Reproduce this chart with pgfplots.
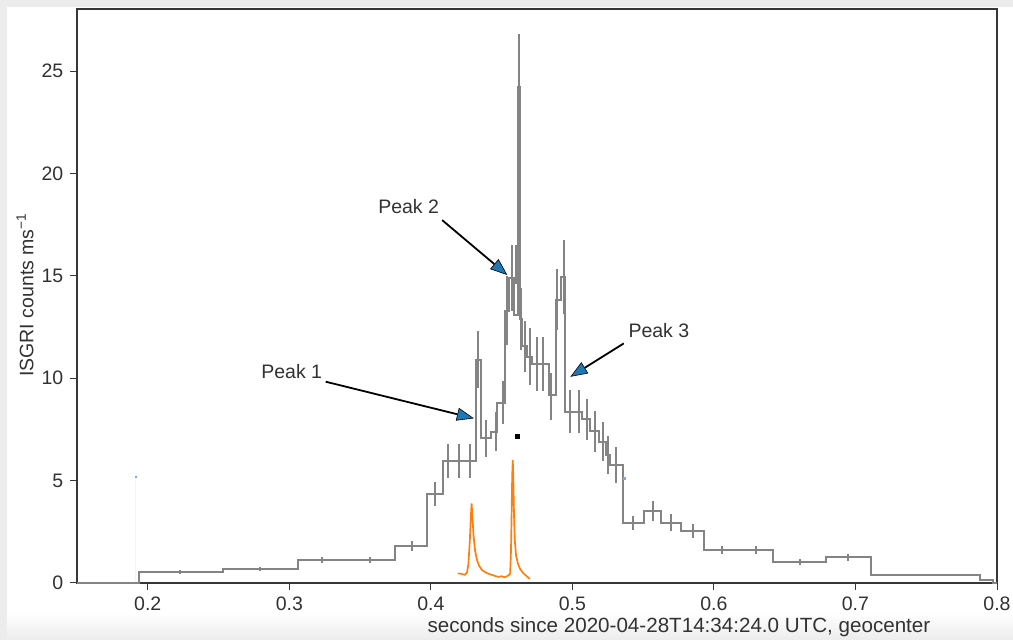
\documentclass[border=0pt]{standalone}
\usepackage{pgfplots}
\pgfplotsset{compat=1.18}
\usepackage{pgfplotstable}
\usepackage{fontspec}
\setmainfont{Liberation Sans}
\usetikzlibrary{arrows.meta}

\definecolor{histgray}{RGB}{132,132,132}
\definecolor{mplorange}{RGB}{255,127,14}
\definecolor{mplblue}{RGB}{31,119,180}
\definecolor{framegray}{RGB}{55,55,55}
\definecolor{screengray}{RGB}{236,236,236}
\definecolor{labelgray}{RGB}{50,50,50}

% ISGRI light curve: left bin edge and count rate (counts/ms)
\pgfplotstableread{
x y
0.1500 0.00
0.1940 0.55
0.2530 0.67
0.3060 1.12
0.3400 1.12
0.3750 1.80
0.3976 4.35
0.4085 5.96
0.4162 5.96
0.4239 5.96
0.4316 10.90
0.4356 7.06
0.4422 7.39
0.4469 8.80
0.4525 13.30
0.4550 14.90
0.4590 13.10
0.4617 24.20
0.4632 12.90
0.4645 11.55
0.4681 11.05
0.4716 10.70
0.4834 9.20
0.4881 13.80
0.4921 14.96
0.4951 8.37
0.5071 8.00
0.5127 7.40
0.5191 6.90
0.5240 6.25
0.5268 5.76
0.5358 2.93
0.5504 3.52
0.5626 2.95
0.5768 2.54
0.5932 1.61
0.6418 1.04
0.6790 1.25
0.7108 0.39
0.7880 0.15
0.7974 0.00
0.8000 0.00
}\lightcurve

% Error bars: bin centre, rate, 1-sigma
\pgfplotstableread{
x y e
0.2230 0.55 0.10
0.2790 0.67 0.10
0.3230 1.12 0.15
0.3570 1.12 0.15
0.3870 1.80 0.25
0.4030 4.35 0.60
0.4123 5.96 0.83
0.4200 5.96 0.83
0.4277 5.96 0.83
0.4336 10.90 1.40
0.4393 7.06 0.90
0.4457 7.39 0.95
0.4511 8.80 1.05
0.4537 13.30 1.70
0.4570 14.90 1.60
0.4603 15.55 0.95
0.4624 24.20 2.60
0.4639 12.90 1.50
0.4663 11.55 1.25
0.4699 11.05 1.40
0.4751 10.70 1.30
0.4793 10.70 1.30
0.4850 9.10 1.15
0.4892 13.85 1.50
0.4939 14.96 1.80
0.4986 8.37 1.05
0.5045 8.37 1.05
0.5104 8.00 1.00
0.5163 7.40 1.00
0.5215 6.90 0.95
0.5250 6.25 0.95
0.5311 5.76 0.90
0.5426 2.93 0.35
0.5571 3.52 0.48
0.5696 2.95 0.40
0.5852 2.54 0.35
0.6054 1.61 0.20
0.6297 1.61 0.20
0.6609 1.04 0.15
0.6945 1.25 0.18
0.7500 0.39 0.05
}\errbars

% Scaled comparison profile
\pgfplotstableread{
x y
0.4190 0.47
0.4215 0.45
0.4240 0.40
0.4255 0.50
0.4265 0.90
0.4275 2.00
0.4283 3.30
0.4288 3.89
0.4294 3.20
0.4302 2.30
0.4312 1.60
0.4325 1.15
0.4340 0.85
0.4360 0.65
0.4380 0.55
0.4400 0.47
0.4420 0.42
0.4440 0.38
0.4460 0.33
0.4480 0.30
0.4500 0.33
0.4520 0.28
0.4535 0.32
0.4550 0.38
0.4560 0.45
0.4566 1.50
0.4571 3.50
0.4575 5.30
0.4579 6.00
0.4583 5.00
0.4588 3.20
0.4594 2.00
0.4602 1.35
0.4615 0.95
0.4630 0.70
0.4650 0.50
0.4670 0.38
0.4690 0.25
0.4700 0.20
}\profile

\begin{document}
\fontsize{19.5}{23}\selectfont
\begin{tikzpicture}[x=1pt,y=1pt]
  % page background
  \fill[screengray] (-77,-57) rectangle (936,583);
  \fill[white] (-70,-30) rectangle (936,576);
  \shade[top color=white, bottom color=screengray] (-70,-57) rectangle (936,-30);
  \path[use as bounding box] (-77,-57) rectangle (936,583);

  \begin{axis}[
    at={(0,0)}, anchor=south west,
    scale only axis, width=920pt, height=574pt,
    xmin=0.15, xmax=0.8, ymin=0, ymax=28.03,
    xtick={0.2,0.3,0.4,0.5,0.6,0.7,0.8},
    ytick={0,5,10,15,20,25},
    xticklabel={\pgfmathprintnumber[fixed,fixed zerofill,precision=1]{\tick}},
    /pgf/number format/assume math mode=true,
    tick align=outside, tick pos=left,
    major tick length=7pt,
    tick style={framegray, line width=1pt},
    axis line style={framegray, line width=1.3pt},
    tick label style={text=labelgray, font=\fontsize{19.5}{23}\selectfont},
    clip=false,
  ]
    % faint markers
    \addplot[mplblue!7, line width=1pt, forget plot] coordinates {(0.1916,0) (0.1916,5.2)};
    \addplot[only marks, mark=square*, mark size=0.8pt, mplblue!60, forget plot]
      coordinates {(0.1916,5.2) (0.5367,5.12)};

    % binned light curve
    \addplot[histgray, line width=2pt, const plot mark left, forget plot]
      table[x=x, y=y] {\lightcurve};
    \addplot[draw=none, mark=none, forget plot,
      error bars/.cd, y dir=both, y explicit,
      error bar style={draw=histgray, line width=2pt}, error mark=none]
      table[x=x, y=y, y error=e] {\errbars};

    % comparison profile
    \addplot[mplorange, line width=1.7pt, forget plot] table[x=x, y=y] {\profile};

    \addplot[only marks, mark=square*, mark size=2.2pt, black, forget plot]
      coordinates {(0.4612,7.18)};

    % annotations
    \tikzset{peakarrow/.style={black, line width=1.8pt,
      -{Triangle[length=17pt, width=13pt, fill=mplblue, line width=0.6pt]}}}
    \draw[peakarrow] (axis cs:0.3257,9.83) -- (axis cs:0.4304,8.04);
    \draw[peakarrow] (axis cs:0.4080,17.72) -- (axis cs:0.4540,15.04);
    \draw[peakarrow] (axis cs:0.5363,11.70) -- (axis cs:0.4986,10.07);
    \node[text=labelgray] at (axis cs:0.3017,10.35) {Peak 1};
    \node[text=labelgray] at (axis cs:0.3843,18.37) {Peak 2};
    \node[text=labelgray] at (axis cs:0.5611,12.33) {Peak 3};
  \end{axis}

  \node[text=labelgray, font=\fontsize{20.6}{24}\selectfont] at (602,-44)
    {seconds since 2020-04-28T14:34:24.0 UTC, geocenter};
  \node[text=labelgray, rotate=90] at (-52,288) {ISGRI counts ms\textsuperscript{−1}};
\end{tikzpicture}
\end{document}
